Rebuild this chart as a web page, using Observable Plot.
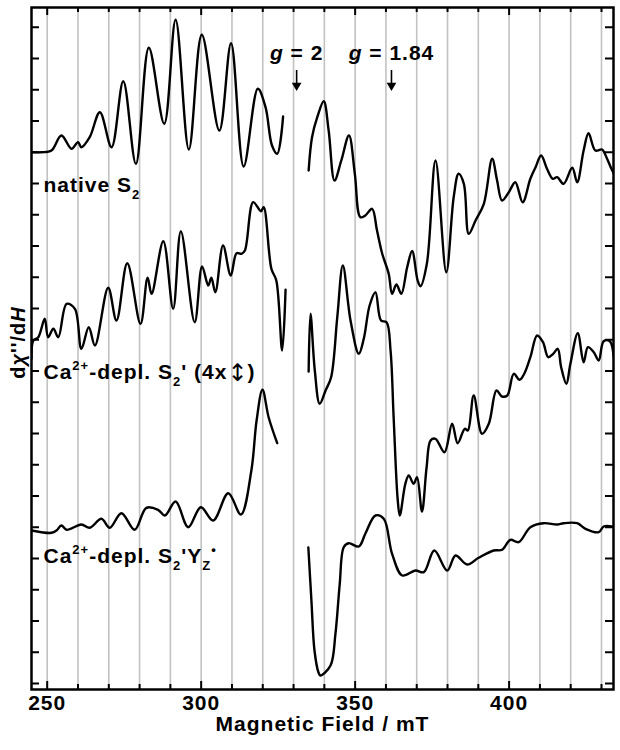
<!DOCTYPE html>
<html><head><meta charset="utf-8">
<script src="https://cdn.jsdelivr.net/npm/d3@7"></script>
<script src="https://cdn.jsdelivr.net/npm/@observablehq/plot@0.6"></script>
<style>
html,body{margin:0;padding:0;background:#fff;}
svg text{letter-spacing:1px;}
</style>
</head><body>
<script>
// Magnetic field (mT) vs dχ''/dH (arbitrary units, traces offset vertically)
const nativeLow = [[244.9,531.3],[248.1,531.3],[251.4,533],[254.6,548],[257.9,534.7],[260.0,541.3],[261.1,536.3],[263.8,546.3],[267.1,571.3],[270.9,536.3],[274.7,602.3],[278.8,519.7],[283.0,635.7],[288.0,559.7],[291.7,663.7],[296.0,534],[300.2,648.7],[305.9,553],[309.7,640.3],[313.8,517],[318.4,594.7],[320.9,576.3],[323.0,538],[324.7,529.7],[326.6,567]];
const nativeHigh = [[334.9,513],[336.0,546.3],[337.7,566.3],[339.8,582.3],[341.4,553],[343.3,503],[345.5,523],[348.0,548],[349.9,509.7],[351.7,466.3],[353.3,468],[355.5,474.7],[357.1,453],[358.8,429.7],[360.9,409.7],[362.0,389.7],[363.4,399],[365.0,389.7],[366.9,416.3],[368.5,432.5],[370.3,403],[371.2,397.2],[373.3,420],[376.1,523],[379.6,411.3],[382.0,486.3],[383.6,509.7],[385.3,499.7],[386.9,449.7],[389.1,463],[391.8,479.7],[394.5,524.7],[396.1,503],[397.7,483],[399.9,491.3],[402.0,501.3],[404.4,481.3],[406.9,504.7],[408.6,516.3],[410.4,528],[412.3,514.7],[414.2,504.7],[415.6,506.3],[417.7,499.7],[420.5,515.7],[422.1,501.3],[424.2,533],[425.8,550.3],[428.0,533],[430.2,534],[431.6,526.3],[433.0,516.3],[434.0,510]];
const caLow = [[244.9,325],[245.5,343],[247.1,346.3],[249.2,364.7],[250.3,346.3],[252.0,354.7],[253.6,346.3],[256.3,379.7],[259.0,374.7],[261.1,334.7],[263.5,356.3],[265.5,338],[269.8,395.7],[272.5,363],[276.0,420.3],[280.3,359.7],[282.6,405.7],[283.9,389.7],[287.7,442.3],[290.9,374.7],[293.4,452.3],[297.9,361.3],[300.3,417],[302.3,398],[303.3,405.7],[304.6,391.3],[307.1,438],[309.6,408],[311.5,430.3],[313.1,429.7],[314.2,433],[316.9,481.3],[319.4,472.3],[320.3,476.3],[322.8,414.7],[324.4,403],[326.3,333],[327.4,393.7]];
const caHigh = [[334.9,312],[335.5,369.7],[336.9,313],[338.5,279.7],[340.4,293],[342.2,306.3],[344.2,366.3],[346.0,418],[348.5,363],[351.2,329.7],[352.8,344.7],[354.7,378],[356.6,391.3],[358.4,363],[360.2,361.3],[361.5,333],[362.5,266.3],[363.8,184.7],[364.5,168],[366.3,199.7],[367.4,208],[369.0,199.7],[370.1,206.3],[371.7,172],[373.2,216],[374.5,243],[376.1,244.7],[379.0,231.3],[381.5,259.7],[383.3,240.3],[385.6,254.7],[386.6,253],[388.5,288],[391.2,249.7],[393.4,259.7],[395.9,293],[397.7,287],[399.4,288],[401.5,309.7],[403.4,303.7],[405.0,310.3],[406.9,326.3],[409.1,348],[411.0,341.3],[412.7,326.3],[414.3,329.7],[415.8,334.7],[416.9,316.3],[418.6,299.7],[419.9,319.7],[422.3,350.3],[424.2,321.3],[425.6,336.3],[427.5,331.3],[429.1,323],[430.7,342.3],[432.7,342.3],[434.0,326.3]];
const yzLow = [[244.9,153],[248.1,151.3],[251.4,150.7],[253.0,153],[254.6,158],[256.3,153.7],[261.1,159],[263.8,155.7],[267.6,164.7],[270.3,155.7],[274.1,170.3],[278.4,153.7],[282.2,175.7],[286.0,173.7],[288.2,168],[291.7,182],[295.8,156.3],[299.9,176.3],[303.9,163],[308.8,190.3],[312.9,169],[316.3,213],[318.0,263],[319.9,293.7],[321.9,266.3],[324.7,240.3]];
const yzHigh = [[334.8,136],[335.8,83],[336.8,33],[338.1,11],[338.7,8],[342.0,18],[343.6,49.7],[345.0,99.7],[346.3,136.3],[347.9,140.3],[351.2,137],[353.3,149.7],[356.6,168],[359.3,164.7],[362.0,129.7],[365.3,108],[369.6,113],[372.3,111.3],[375.7,133],[379.9,113],[382.6,128],[386.4,119],[390.1,125.7],[395.0,133],[397.7,133.7],[400.4,143.7],[403.1,141.3],[406.9,156.3],[411.2,160.3],[415.6,159],[417.7,160.3],[422.1,160.3],[424.8,154.7],[429.1,151.3],[430.7,157],[433.4,157]];

const fieldDomain = [244.9, 433.9];
const signalDomain = [-6, 676];
const gridFields = d3.range(250, 431, 10);
const majorFields = [250, 300, 350, 400];
const minorFields = gridFields.filter(f => f % 50 !== 0);
const tickLabels = ["250", "300", "350", "400"];
const signalTicks = d3.range(0, 22).map(i => i * 31.25);

const traceLabels = [
  {text: "native S2", field: 248.8, signal: 498.5},
  {text: "Ca2+-depl. S2' (4x↕)", field: 248.8, signal: 311.5},
  {text: "Ca2+-depl. S2'YZ•", field: 248.8, signal: 127.5}
];
const gMarkers = [
  {text: "g = 2", field: 331.0},
  {text: "g = 1.84", field: 361.8}
];
const yLabel = "dχ''/dH";
const xLabel = "Magnetic Field / mT";

const richParts = {
  "native S2": [["native S"], ["2", "sub"]],
  "Ca2+-depl. S2' (4x↕)": [["Ca"], ["2+", "sup"], ["-depl. S"], ["2", "sub"], ["' (4x"], ["↕", "big"], [")"]],
  "Ca2+-depl. S2'YZ•": [["Ca"], ["2+", "sup"], ["-depl. S"], ["2", "sub"], ["'Y"], ["Z", "sub"], ["•", "sup"]],
  "g = 2": [["g", "i"], [" = 2"]],
  "g = 1.84": [["g", "i"], [" = 1.84"]],
  "dχ''/dH": [["d"], ["χ", "i"], ["''/d"], ["H", "i"]]
};

const series = [
  ["nativeLow", nativeLow], ["nativeHigh", nativeHigh],
  ["caLow", caLow], ["caHigh", caHigh],
  ["yzLow", yzLow], ["yzHigh", yzHigh]
];
const lineData = series.flatMap(([id, pts]) => pts.map(([field, signal]) => ({id, field, signal})));

const W = 620, H = 750, mL = 31, mR = 7, mT = 7, mB = 61;
const frameW = W - mL - mR, frameH = H - mT - mB;
const yTop = signalDomain[1];

const chart = Plot.plot({
  width: W, height: H,
  marginLeft: mL, marginRight: mR, marginTop: mT, marginBottom: mB,
  x: {domain: fieldDomain, axis: null},
  y: {domain: signalDomain, axis: null},
  style: {fontFamily: "'Liberation Sans', Arial, sans-serif", fontWeight: "bold", background: "white", overflow: "visible"},
  marks: [
    Plot.ruleX(gridFields, {stroke: "#c2c2c2", strokeWidth: 1.6}),
    Plot.line(lineData, {x: "field", y: "signal", z: "id", curve: "catmull-rom", stroke: "black", strokeWidth: 2.4, clip: true}),
    Plot.ruleX(minorFields, {insetTop: frameH - 5, stroke: "black", strokeWidth: 2}),
    Plot.ruleX(majorFields, {insetTop: frameH - 8, stroke: "black", strokeWidth: 2}),
    Plot.ruleX(minorFields, {insetBottom: frameH - 5, stroke: "black", strokeWidth: 2}),
    Plot.ruleX(majorFields, {insetBottom: frameH - 8, stroke: "black", strokeWidth: 2}),
    Plot.ruleY(signalTicks, {insetRight: frameW - 8, stroke: "black", strokeWidth: 2}),
    Plot.ruleY(signalTicks, {insetLeft: frameW - 8, stroke: "black", strokeWidth: 2}),
    Plot.frame({stroke: "black", strokeWidth: 2.5}),
    Plot.text(majorFields, {x: d => d, text: (d, i) => tickLabels[i], frameAnchor: "bottom", dy: 20, fontSize: 21, fill: "black"}),
    Plot.text([xLabel], {text: d => d, frameAnchor: "bottom", textAnchor: "middle", dy: 41, fontSize: 21, fill: "black"}),
    Plot.text([yLabel], {text: d => d, frameAnchor: "left", textAnchor: "middle", dx: -13, dy: -6, rotate: -90, fontSize: 20, fill: "black"}),
    Plot.text(traceLabels, {x: "field", y: "signal", text: "text", textAnchor: "start", fontSize: 21, fill: "black"}),
    Plot.text(gMarkers, {x: "field", y: yTop - 46, text: "text", fontSize: 21, fill: "black"}),
    Plot.ruleX(gMarkers, {x: "field", y1: yTop - 63, y2: yTop - 76, stroke: "black", strokeWidth: 1.6}),
    Plot.dot(gMarkers, {x: "field", y: yTop - 78, symbol: "triangle", rotate: 180, r: 3.6, fill: "black", stroke: "none"})
  ]
});
document.body.appendChild(chart);

d3.select(chart).selectAll("text").each(function () {
  const parts = richParts[this.textContent];
  if (!parts) return;
  const el = d3.select(this);
  el.text(null);
  let shift = 0;
  for (const [t, kind] of parts) {
    const target = kind === "sub" ? 7 : kind === "sup" ? -9 : kind === "big" ? 2 : 0;
    const ts = el.append("tspan").text(t);
    if (target !== shift) ts.attr("dy", target - shift);
    shift = target;
    if (kind === "sub" || kind === "sup") ts.attr("font-size", 13);
    if (kind === "i") ts.attr("font-style", "italic");
    if (kind === "big") ts.attr("font-size", 24).attr("font-family", "'DejaVu Sans'").attr("font-weight", "normal").attr("letter-spacing", 0);
  }
});
</script>
</body></html>
